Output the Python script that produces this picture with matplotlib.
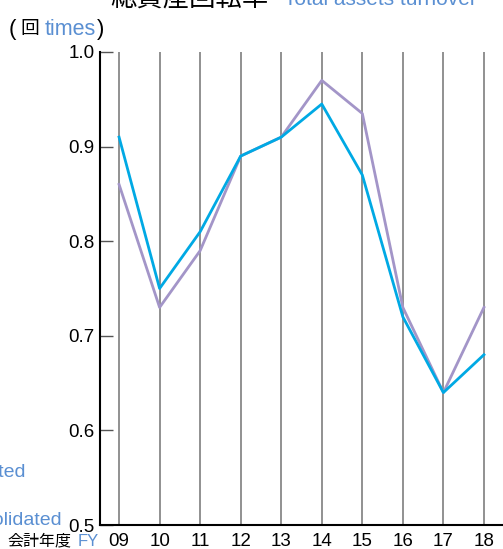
import matplotlib
matplotlib.use('Agg')
import matplotlib.pyplot as plt

# DATA
years = [9, 10, 11, 12, 13, 14, 15, 16, 17, 18]
year_labels = ['09', '10', '11', '12', '13', '14', '15', '16', '17', '18']
consolidated = [0.91, 0.75, 0.81, 0.89, 0.91, 0.945, 0.87, 0.72, 0.64, 0.68]
non_consolidated = [0.86, 0.73, 0.79, 0.89, 0.91, 0.97, 0.935, 0.73, 0.64, 0.73]
yticks = [0.5, 0.6, 0.7, 0.8, 0.9, 1.0]

CYAN = '#00a9e4'
PURPLE = '#a395c8'
BLUE_TXT = '#5a8fd2'
LATIN = ['Liberation Sans', 'DejaVu Sans']
JP = ['Noto Sans CJK JP', 'DejaVu Sans']
plt.rcParams['font.family'] = LATIN

W, H = 503, 549
fig = plt.figure(figsize=(W / 100, H / 100), dpi=100)
ax = fig.add_axes([100 / W, (H - 525) / H, (503 - 100) / W, (525 - 52) / H])

# gridlines at each year
for x in years:
    ax.axvline(x, color='#888888', lw=1.3, zorder=1)

ax.plot(years, non_consolidated, color=PURPLE, lw=2.0, zorder=3)
ax.plot(years, consolidated, color=CYAN, lw=2.0, zorder=4)

ax.set_xlim(8.53, 18.47)
ax.set_ylim(0.5, 1.0)
ax.set_yticks(yticks)
ax.set_yticklabels([f'{v:.1f}' for v in yticks], fontsize=13.5)
ax.set_xticks(years)
ax.set_xticklabels(year_labels, fontsize=13.5)
ax.tick_params(axis='y', direction='in', length=9, width=1, color='#555555', pad=4)
ax.tick_params(axis='x', length=0, pad=6)

for spine in ['top', 'right']:
    ax.spines[spine].set_visible(False)
ax.spines['left'].set_linewidth(1.5)
ax.spines['bottom'].set_linewidth(1.5)

# TITLE (cut at top)
fig.text(110 / W, 1 - 5 / H, '総資産回転率', fontsize=19, color='black', va='baseline', ha='left', family=JP)
fig.text(284 / W, 1 - 5 / H, 'Total assets turnover', fontsize=15, color=BLUE_TXT, va='baseline', ha='left')

# unit
fig.text(9 / W, 1 - 35 / H, '(', fontsize=16, color='black', va='baseline', ha='left')
fig.text(20 / W, 1 - 34 / H, '回', fontsize=13.5, color='black', va='baseline', ha='left', family=JP)
fig.text(45 / W, 1 - 35 / H, 'times', fontsize=15.5, color=BLUE_TXT, va='baseline', ha='left')
fig.text(97 / W, 1 - 35 / H, ')', fontsize=16, color='black', va='baseline', ha='left')

# fiscal year label
fig.text(7 / W, 1 - 545 / H, '会計年度', fontsize=11.5, color='black', va='baseline', ha='left', family=JP)
fig.text(78 / W, 1 - 546.5 / H, 'FY', fontsize=12, color=BLUE_TXT, va='baseline', ha='left')

# legend (partly off the left edge)
fig.text(26 / W, 1 - 477 / H, 'Consolidated', fontsize=14, color=BLUE_TXT, va='baseline', ha='right')
fig.text(62 / W, 1 - 525 / H, 'Non-consolidated', fontsize=14, color=BLUE_TXT, va='baseline', ha='right')

plt.savefig('out.png', dpi=100)
